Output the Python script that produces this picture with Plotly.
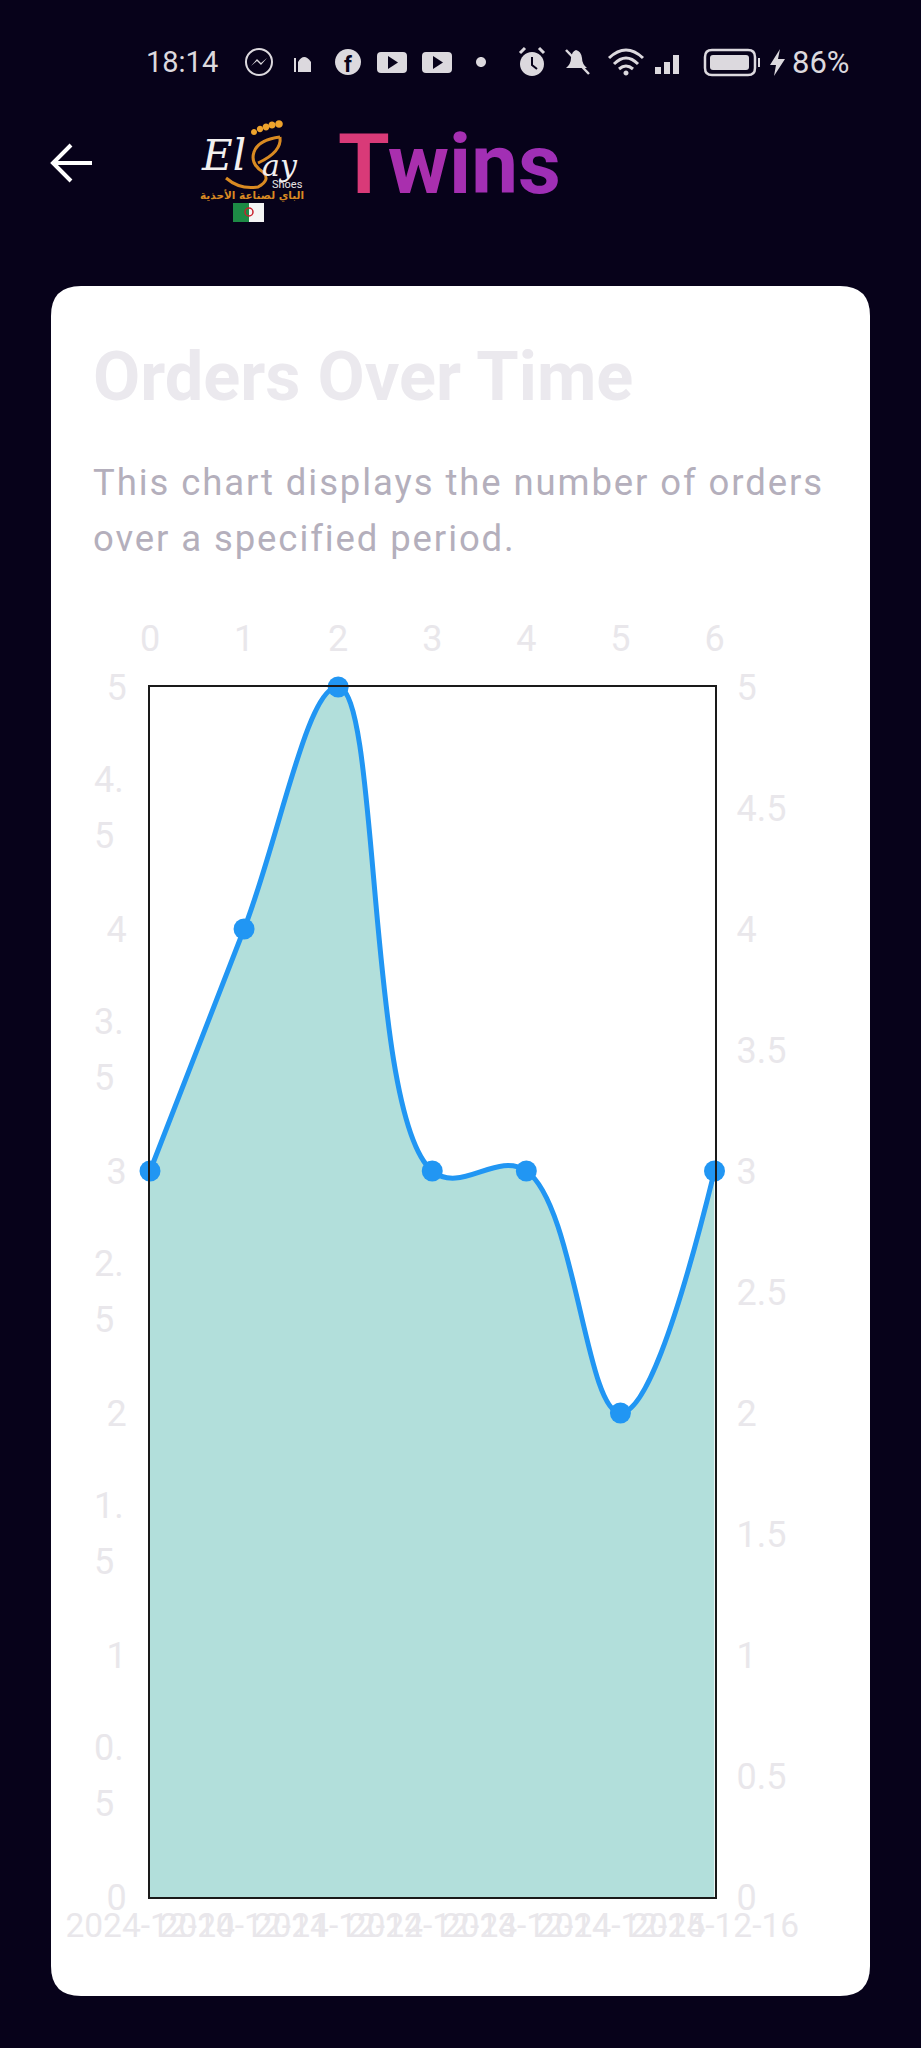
import re
import plotly.graph_objects as go

# chart data
idx = [0, 1, 2, 3, 4, 5, 6]
orders = [3, 4, 5, 3, 3, 2, 3]
date_labels = ["2024-12-10", "2024-12-11", "2024-12-12", "2024-12-13",
               "2024-12-14", "2024-12-15", "2024-12-16"]
left_ticks = [0, 1, 2, 3, 4, 5]
left_half_ticks = [0.5, 1.5, 2.5, 3.5, 4.5]
right_ticks = [0, 0.5, 1, 1.5, 2, 2.5, 3, 3.5, 4, 4.5, 5]
right_labels = ["0", "0.5", "1", "1.5", "2", "2.5", "3", "3.5", "4", "4.5", "5"]

W, H = 921, 2048
BG = "#07021a"
FAINT = "#e9e7eb"
FONT = "Roboto"
# plot box in pixels
L, R, T, B = 150, 714.5, 687, 1897


def px(x):
    return x / W


def py(y):
    return 1 - y / H


def pth(s):
    # path written in pixels (y from top), shapes want paper coords
    nums = iter(range(10 ** 6))

    def conv(m):
        v = float(m.group(0))
        return f"{px(v):.5f}" if next(nums) % 2 == 0 else f"{py(v):.5f}"

    return dict(type="path", xref="paper", yref="paper", layer="below",
                path=re.sub(r"-?\d+\.?\d*", conv, s))


shapes = []
annots = []


def text(x, y, s, size, color, anchor="left", weight=None, family=FONT):
    f = dict(family=family, size=size, color=color)
    if weight:
        f["weight"] = weight
    annots.append(dict(xref="paper", yref="paper", x=px(x), y=py(y), text=s, showarrow=False,
                       xanchor=anchor, yanchor="middle", font=f, borderpad=0, borderwidth=0))


def shape(s, fill=None, line=None, width=0):
    d = pth(s)
    d["fillcolor"] = fill if fill else "rgba(0,0,0,0)"
    d["line"] = dict(color=line if line else "rgba(0,0,0,0)", width=width)
    shapes.append(d)


def rrect(x0, y0, x1, y1, r):
    return (f"M{x0+r},{y0} L{x1-r},{y0} Q{x1},{y0} {x1},{y0+r} L{x1},{y1-r} Q{x1},{y1} {x1-r},{y1} "
            f"L{x0+r},{y1} Q{x0},{y1} {x0},{y1-r} L{x0},{y0+r} Q{x0},{y0} {x0+r},{y0} Z")


def circle(cx, cy, r):
    return (f"M{cx-r},{cy} C{cx-r},{cy-r*.55} {cx-r*.55},{cy-r} {cx},{cy-r} C{cx+r*.55},{cy-r} {cx+r},{cy-r*.55} {cx+r},{cy} "
            f"C{cx+r},{cy+r*.55} {cx+r*.55},{cy+r} {cx},{cy+r} C{cx-r*.55},{cy+r} {cx-r},{cy+r*.55} {cx-r},{cy} Z")


# card
shape(rrect(51, 286, 870, 1996, 30), fill="#ffffff")

# status bar
ICON = "#dcd9de"
text(146, 62, "18:14", 29, ICON)
shape(circle(259, 62, 13), line=ICON, width=2)
shape("M251,66 L257,59 L261,63 L267,58 L261,65 L257,61 Z", fill=ICON)
shape("M298,72 L298,62 Q304,52 311,62 L311,72 Z", fill=ICON)
shape("M294,72 L294,58 L296,58 L296,72 Z", fill=ICON)
shape(circle(348, 62, 13), fill=ICON)
text(348, 64, "<b>f</b>", 22, BG, anchor="center")
for cx in [392, 437]:
    shape(rrect(cx - 15, 52, cx + 15, 73, 4), fill=ICON)
    shape(f"M{cx-4},56 L{cx+6},62.5 L{cx-4},69 Z", fill=BG)
shape(circle(481, 62, 5), fill=ICON)
shape(circle(532, 64, 12), fill=ICON)
shape("M532,57 L532,65 L537,69", line=BG, width=2)
shape("M520,53 L525,48 M544,53 L539,48", line=ICON, width=3)
shape("M566,68 Q571,64 571,58 Q572,51 576,50 Q581,51 582,58 Q582,64 587,68 Z", fill=ICON)
shape("M566,50 L589,74", line=ICON, width=2.5)
shape("M609,58 Q626,42 643,58 M614,64 Q626,52 638,64 M619,69 Q626,63 633,69", line=ICON, width=3)
shape(circle(626, 73, 2.5), fill=ICON)
for x0, y0 in [(655, 67), (664, 62), (673, 55)]:
    shape(f"M{x0},{y0} L{x0+6},{y0} L{x0+6},74 L{x0},74 Z", fill=ICON)
shape(rrect(705, 50, 755, 75, 7), line=ICON, width=2.5)
shape(rrect(710, 55, 749, 70, 3), fill=ICON)
shape("M758,58 L760,58 L760,67 L758,67 Z", fill=ICON)
shape("M780,49 L770,65 L776,65 L774,76 L785,59 L778,59 Z", fill=ICON)
text(792, 62, "86%", 31, ICON)

# app bar
shape("M92,163 L54,163 M71,145 L53,163 L71,181", line="#ffffff", width=4)

# logo
ORANGE = "#d98a22"
shape("M280,137 Q258,140 254,152 Q250,164 263,172 Q271,180 258,187 Q240,190 226,178", line=ORANGE, width=3)
shape("M280,137 Q282,152 258,163", line=ORANGE, width=3)
for cx, cy, r in [(254, 132, 3), (260, 129, 3.2), (266, 127, 3.4), (272, 125, 3.6), (279, 124, 3.8)]:
    shape(circle(cx, cy, r), fill="#eea32c")
text(201, 155, "<i>El</i>", 42, "#f2f0f0", family="DejaVu Serif")
text(262, 165, "<i>ay</i>", 30, "#f2f0f0", family="DejaVu Serif")
text(287, 184, "Shoes", 11, "#e6e4e4", anchor="center")
text(252, 195, "<b>الباي لصناعة الأحذية</b>", 10.5, ORANGE, anchor="center", family="DejaVu Sans")
shape("M233,203 L249,203 L249,222 L233,222 Z", fill="#1d8a45")
shape("M249,203 L264,203 L264,222 L249,222 Z", fill="#f4f4f4")
shape(circle(249, 212, 4), line="#c8202c", width=1.5)

twins_colors = ["#d93a78", "#a92fae", "#a52fb2", "#a22fb4", "#9f2fb6"]
twins = "".join(f'<span style="color:{c}">{ch}</span>' for c, ch in zip(twins_colors, "Twins"))
text(338, 164, f"<b>{twins}</b>", 83.5, "#a22fb4")

# card texts
text(93, 376, "<b>Orders Over Time</b>", 68.5, "#ebe9ee")
text(93, 482, "This chart displays the number of orders", 36.5, "#b4afbc")
text(93, 538, "over a specified period.", 36.5, "#b4afbc")

# half ticks on the left wrap on two lines, spacing wider than plotly's <br>
for v in left_half_ticks:
    a, b = f"{v:.1f}".split(".")
    for s, shift in [(a + ".", 28), (b, -28)]:
        annots.append(dict(xref="paper", yref="y", x=px(92), y=v, text=s, showarrow=False,
                           xanchor="left", yanchor="middle", yshift=shift,
                           font=dict(family=FONT, size=36, color=FAINT)))

fig = go.Figure()
fig.add_trace(go.Scatter(
    x=idx, y=orders, mode="lines+markers", fill="tozeroy", fillcolor="#b2dfdb",
    line=dict(color="#2196f3", width=5, shape="spline", smoothing=1.1),
    marker=dict(color="#2196f3", size=21), cliponaxis=False, showlegend=False,
))
# phantom trace so the top and right axes are drawn
fig.add_trace(go.Scatter(x=idx, y=orders, xaxis="x2", yaxis="y2", mode="none", showlegend=False, hoverinfo="skip"))

axis_font = dict(family=FONT, size=36, color=FAINT)
frame = dict(showline=True, linecolor="#1a1a1a", linewidth=2, mirror=True)
fig.update_layout(
    template="none",
    width=W, height=H, margin=dict(l=0, r=0, t=0, b=0, pad=0),
    paper_bgcolor=BG, plot_bgcolor="rgba(0,0,0,0)", showlegend=False,
    xaxis=dict(domain=[px(L), px(R)], range=[0, 6], anchor="y", side="bottom", automargin=False,
               tickmode="array", tickvals=idx, ticktext=date_labels, tickangle=0,
               tickfont=dict(family=FONT, size=33.5, color=FAINT), showgrid=False, zeroline=False,
               ticks="", ticklabelstandoff=-2, **frame),
    xaxis2=dict(domain=[px(L), px(R)], range=[0, 6], anchor="y", side="top", overlaying="x", automargin=False,
                tickmode="array", tickvals=idx, ticktext=[str(i) for i in idx], tickangle=0,
                tickfont=axis_font, showgrid=False, zeroline=False, ticks="", ticklabelstandoff=28),
    yaxis=dict(domain=[py(B), py(T)], range=[0, 5], anchor="x", side="left", automargin=False,
               tickmode="array", tickvals=left_ticks, ticktext=[str(v) for v in left_ticks],
               tickfont=axis_font, showgrid=False, zeroline=False,
               ticks="", ticklabelstandoff=14, **frame),
    yaxis2=dict(domain=[py(B), py(T)], range=[0, 5], anchor="x", side="right", overlaying="y", automargin=False,
                tickmode="array", tickvals=right_ticks, ticktext=right_labels,
                tickfont=axis_font, showgrid=False, zeroline=False, ticks="", ticklabelstandoff=21),
    shapes=shapes, annotations=annots,
)

# the subtitle in the app has some letter spacing, plotly fonts have no option for it
spacing_js = """
document.body.style.margin='0';
document.body.style.background='%s';
document.documentElement.style.overflow='hidden';
document.querySelectorAll('.annotation-text').forEach(function(el){
  var t = el.textContent;
  if (t.indexOf('This chart') === 0 || t.indexOf('over a') === 0) {
    var b = el.getBBox();
    el.setAttribute('text-anchor', 'start');
    el.setAttribute('x', b.x);
    el.style.letterSpacing = '1.9px';
  }
});
""" % BG
fig.write_html("out.html", config=dict(displayModeBar=False), post_script=spacing_js)
